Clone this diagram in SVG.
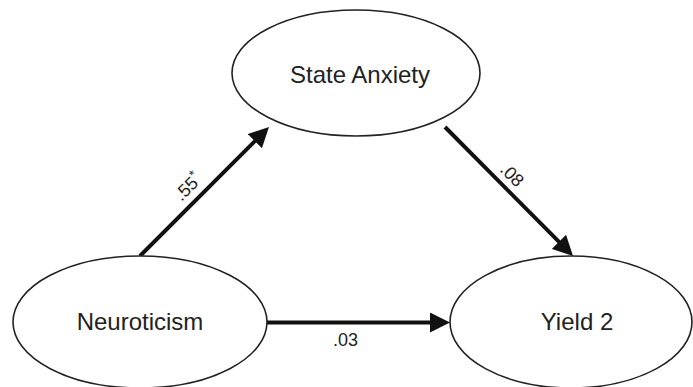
<svg xmlns="http://www.w3.org/2000/svg" width="693" height="387" viewBox="0 0 693 387">
<style>
.node ellipse{fill:#fff;stroke:#222;stroke-width:1.6}
.lbl{font-family:"Liberation Sans",Arial,sans-serif;font-size:24px;fill:#222;text-anchor:middle}
.coef{font-family:"Liberation Sans",Arial,sans-serif;font-size:18px;fill:#222;text-anchor:middle}
.edge{stroke:#111;stroke-width:4;fill:none;marker-end:url(#ah)}
</style>
<defs>
<marker id="ah" markerUnits="userSpaceOnUse" markerWidth="20" markerHeight="20" refX="10" refY="10" orient="auto" viewBox="0 0 20 20">
<path d="M0,0 L20,10 L0,20 Z" fill="#111"/>
</marker>
</defs>
<rect width="693" height="387" fill="#fff"/>
<g id="connectors">
<line class="edge" x1="140" y1="256" x2="261.9" y2="134.1"/>
<line class="edge" x1="445" y1="127" x2="566" y2="248.9"/>
<line class="edge" x1="267" y1="322.5" x2="440" y2="322.5"/>
<text class="coef" transform="translate(188,187) rotate(-45)" y="6">.55<tspan font-size="13" dy="-7">*</tspan></text>
<text class="coef" transform="translate(512,175) rotate(45)" y="6">.08</text>
<text class="coef" x="345.5" y="346">.03</text>
</g>
<g id="state-anxiety" class="node">
<ellipse cx="356" cy="73" rx="124" ry="63"/>
<text class="lbl" x="360" y="83">State Anxiety</text>
</g>
<g id="neuroticism" class="node">
<ellipse cx="140" cy="322" rx="127" ry="66"/>
<text class="lbl" x="140" y="330">Neuroticism</text>
</g>
<g id="yield2" class="node">
<ellipse cx="571" cy="322" rx="121" ry="66"/>
<text class="lbl" x="577" y="330">Yield 2</text>
</g>
</svg>
